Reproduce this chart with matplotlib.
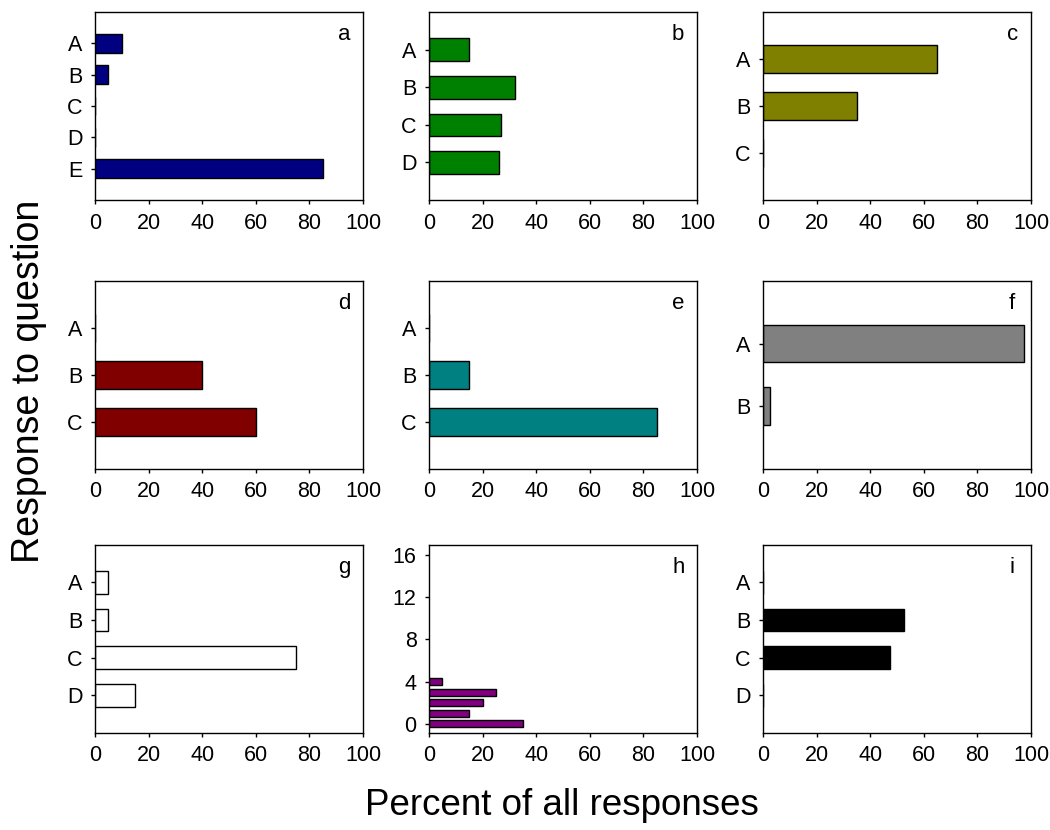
import numpy as np
import matplotlib.pyplot as plt

plt.rcParams['font.family'] = ['Liberation Sans', 'DejaVu Sans']

# panel data: response categories and percent of responses
cats_a = ['A', 'B', 'C', 'D', 'E']
vals_a = [10, 5, 0, 0, 85]
cats_b = ['A', 'B', 'C', 'D']
vals_b = [15, 32, 27, 26]
cats_c = ['A', 'B', 'C']
vals_c = [65, 35, 0]
cats_d = ['A', 'B', 'C']
vals_d = [0, 40, 60]
cats_e = ['A', 'B', 'C']
vals_e = [0, 15, 85]
cats_f = ['A', 'B']
vals_f = [97.5, 2.5]
cats_g = ['A', 'B', 'C', 'D']
vals_g = [5, 5, 75, 15]
pos_h = [0, 1, 2, 3, 4]
vals_h = [35, 15, 20, 25, 5]
cats_i = ['A', 'B', 'C', 'D']
vals_i = [0, 52.5, 47.5, 0]

panels = [
    ('a', cats_a, vals_a, '#000080'),
    ('b', cats_b, vals_b, '#008000'),
    ('c', cats_c, vals_c, '#808000'),
    ('d', cats_d, vals_d, '#800000'),
    ('e', cats_e, vals_e, '#008080'),
    ('f', cats_f, vals_f, '#808080'),
    ('g', cats_g, vals_g, '#ffffff'),
    ('h', None, vals_h, '#800080'),
    ('i', cats_i, vals_i, '#000000'),
]

fig = plt.figure(figsize=(10.5, 8.3), dpi=100)

lefts = [0.0905, 0.4086, 0.7267]
bottoms = [0.759, 0.435, 0.117]
w, h = 0.2552, 0.2265

for k, (tag, cats, vals, col) in enumerate(panels):
    r, c = divmod(k, 3)
    ax = fig.add_axes([lefts[c], bottoms[r], w, h])
    if cats is None:
        ax.barh(pos_h, vals, height=0.65, color=col, edgecolor='black', linewidth=1)
        ax.set_ylim(-0.85, 16.95)
        ax.set_yticks([0, 4, 8, 12, 16])
    else:
        y = np.arange(1, len(cats) + 1)
        ax.barh(y, vals, height=0.6, color=col, edgecolor='black', linewidth=1)
        ax.set_ylim(len(cats) + 1, 0)
        ax.set_yticks(y)
        ax.set_yticklabels(cats)
    ax.set_xlim(0, 100)
    ax.set_xticks([0, 20, 40, 60, 80, 100])
    ax.tick_params(axis='both', labelsize=15.5, length=3, width=1, direction='out',
                   pad=6, top=False, right=False)
    for s in ax.spines.values():
        s.set_linewidth(1)
    ax.text(0.93, 0.88, tag, transform=ax.transAxes, ha='center', va='center',
            fontsize=16)

fig.text(0.028, 0.541, 'Response to question', rotation=90, ha='center',
         va='center', fontsize=27)
fig.text(0.535, 0.029, 'Percent of all responses', ha='center', va='center',
         fontsize=26.5)

fig.savefig('out.png', dpi=100)
